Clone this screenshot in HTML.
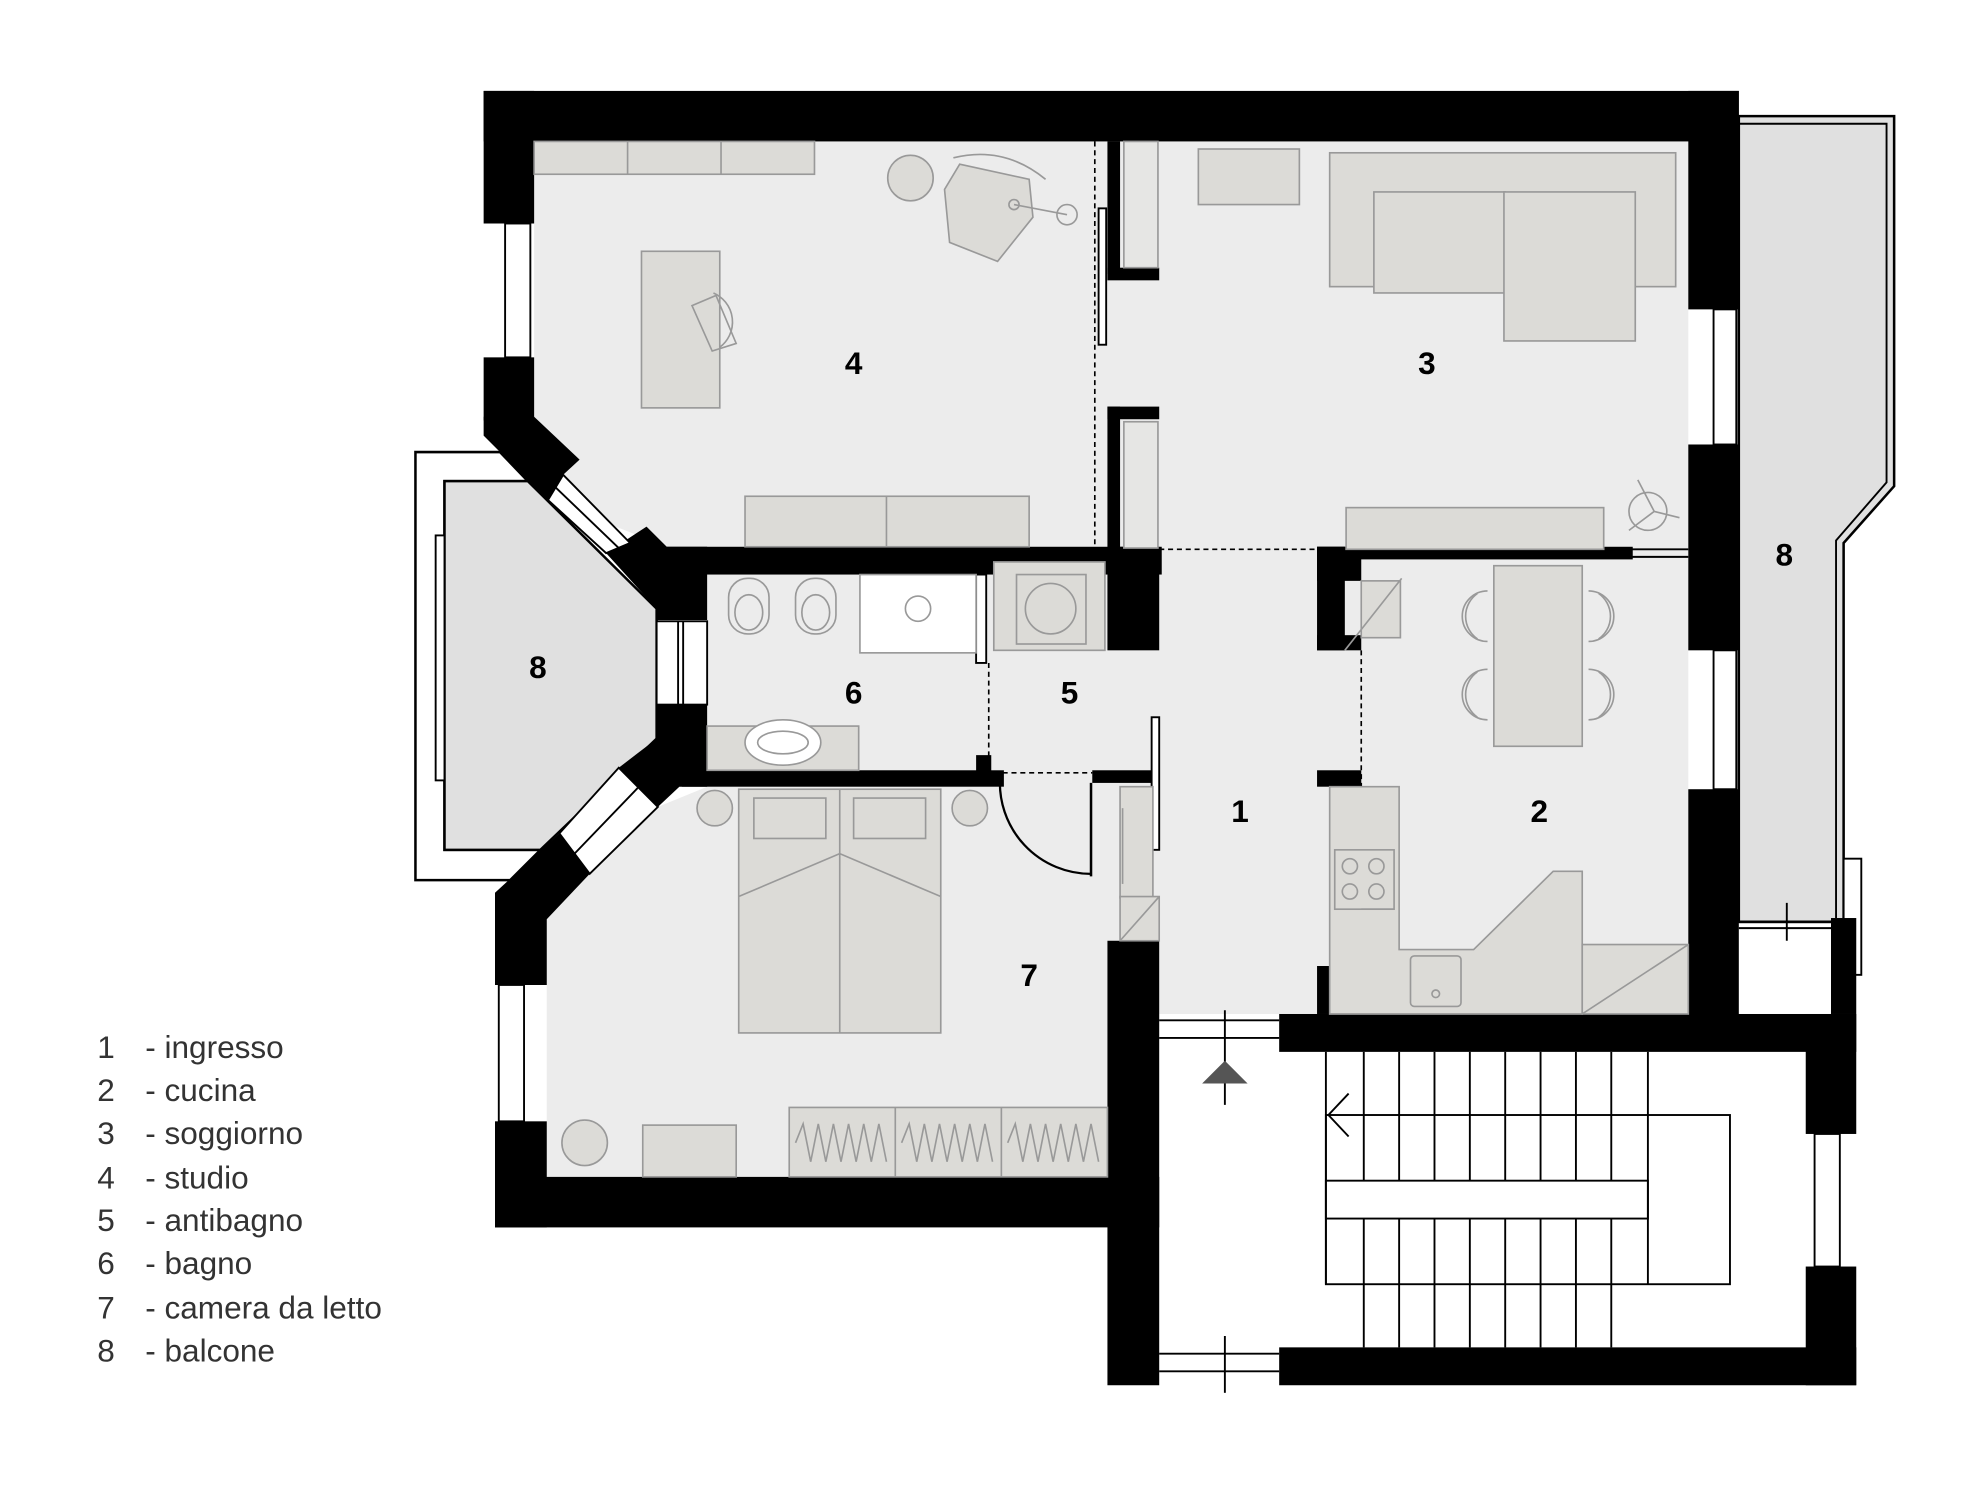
<!DOCTYPE html>
<html><head><meta charset="utf-8"><style>
html,body{margin:0;padding:0;background:#fff;}
svg{display:block}
text{font-family:"Liberation Sans",sans-serif;}
</style></head><body>
<svg width="1980" height="1485" viewBox="0 0 1568 1176" xmlns="http://www.w3.org/2000/svg">
<!-- right balcony -->
<polygon points="1377,92 1500,92 1500,385 1460,430 1460,730 1377,730" fill="#e0e0e0" stroke="#000" stroke-width="2"/>
<polyline points="1377,98 1494,98 1494,382 1454,428 1454,727" fill="none" stroke="#000" stroke-width="1.5"/>
<line x1="1377" y1="730" x2="1450" y2="730" stroke="#000" stroke-width="2"/>
<line x1="1377" y1="735" x2="1450" y2="735" stroke="#000" stroke-width="1.5"/>
<line x1="1415" y1="715" x2="1415" y2="745" stroke="#000" stroke-width="1.5"/>
<rect x="1460" y="680" width="14" height="92" fill="#fff" stroke="#000" stroke-width="1.5"/>
<!-- left balcony -->
<polygon points="329,358 396,358 418,381 352,381 352,673 428,673 404,697 329,697" fill="#fff" stroke="#000" stroke-width="2"/>
<polygon points="352,381 418,381 520,482 520,585 428,673 352,673" fill="#e0e0e0" stroke="#000" stroke-width="2"/>
<rect x="345" y="424" width="7" height="194" fill="#fff" stroke="#000" stroke-width="1.5"/>
<!-- interior floor -->
<polygon points="423,112 1337,112 1337,803 918,803 918,745 877,745 877,932 433,932 433,728 467,692 521,639 560,623 560,455 528,433 434,396 423,330" fill="#ececec"/>
<!-- outer walls -->
<g fill="#000">
<rect x="383" y="72" width="994" height="40"/>
<rect x="383" y="72" width="40" height="105"/>
<rect x="383" y="283" width="40" height="50"/>
<polygon points="383,330 423,330 459,364 446,376 434,396 383,345"/>
<polygon points="480,438 512,417 528,433 560,433 560,491 520,491 520,482"/>
<rect x="520" y="433" width="400" height="22"/>
<polygon points="520,558 560,558 560,623 538,623 521,639 490,608 520,585"/>
<rect x="540" y="610" width="255" height="13"/>
<polygon points="443,660 467,692 433,728 433,780 392,780 392,707"/>
<rect x="392" y="888" width="41" height="84"/>
<rect x="392" y="932" width="526" height="40"/>
<rect x="877" y="745" width="41" height="352"/>
<rect x="1337" y="72" width="40" height="173"/>
<rect x="1337" y="352" width="40" height="163"/>
<rect x="1337" y="625" width="40" height="180"/>
<rect x="1013" y="803" width="457" height="30"/>
<rect x="1430" y="803" width="40" height="95"/>
<rect x="1430" y="1003" width="40" height="94"/>
<rect x="1013" y="1067" width="457" height="30"/>
<rect x="1450" y="727" width="20" height="76"/>
<!-- interior walls -->
<rect x="877" y="112" width="10" height="105"/>
<rect x="877" y="212" width="41" height="10"/>
<rect x="877" y="322" width="41" height="10"/>
<rect x="877" y="322" width="10" height="112"/>
<rect x="877" y="433" width="41" height="82"/>
<rect x="1043" y="433" width="250" height="10"/>
<rect x="1043" y="433" width="35" height="27"/>
<rect x="1043" y="433" width="22" height="82"/>
<rect x="1043" y="503" width="35" height="12"/>
<rect x="1043" y="610" width="35" height="13"/>
<rect x="1043" y="765" width="12" height="38"/>
<rect x="865" y="610" width="53" height="10"/>
<rect x="773" y="598" width="12" height="15"/>
<rect x="1165" y="762" width="90" height="42"/>
</g>
<!-- windows -->
<g fill="#fff" stroke="#000" stroke-width="1.5">
<rect x="400" y="177" width="20" height="106"/>
<rect x="520" y="492" width="40" height="66"/>
<rect x="395" y="780" width="20" height="108"/>
<rect x="1357" y="245" width="18" height="107"/>
<rect x="1357" y="515" width="18" height="110"/>
<rect x="1437" y="898" width="20" height="105"/>
<rect x="773" y="455" width="8" height="70"/>
<rect x="912" y="568" width="6" height="105"/>
<rect x="870" y="165" width="6" height="108"/>
<rect x="1180" y="775" width="45" height="27" stroke="none"/>
<polygon points="446,376 434,396 480,438 499,430"/>
<polygon points="490,608 521,639 467,692 443,660"/>
</g>
<g stroke="#000" stroke-width="1.5">
<line x1="537" y1="492" x2="537" y2="558"/><line x1="541" y1="492" x2="541" y2="558"/>
<line x1="440" y1="386" x2="490" y2="434"/>
<line x1="505" y1="624" x2="455" y2="676"/>
</g>
<polyline points="1180,800 1215,790 1225,777" fill="none" stroke="#000" stroke-width="3"/>
<!-- stair windows -->
<g stroke="#000" stroke-width="1.5">
<line x1="918" y1="808" x2="1013" y2="808"/><line x1="918" y1="822" x2="1013" y2="822"/>
<line x1="970" y1="800" x2="970" y2="875"/>
<line x1="918" y1="1072" x2="1013" y2="1072"/><line x1="918" y1="1086" x2="1013" y2="1086"/>
<line x1="970" y1="1058" x2="970" y2="1103"/>
<line x1="1290" y1="435" x2="1337" y2="435"/><line x1="1290" y1="441" x2="1337" y2="441"/>
</g>
<polygon points="952,858 988,858 970,840" fill="#555"/>
<!-- stairs -->
<g stroke="#000" stroke-width="1.5" fill="none">
<rect x="1050" y="883" width="320" height="134"/>
<rect x="1050" y="935" width="255" height="30" fill="#fff"/>
<line x1="1050" y1="833" x2="1050" y2="1017"/>
<line x1="1305" y1="833" x2="1305" y2="1017"/>
<line x1="1080" y1="833" x2="1080" y2="935"/><line x1="1108" y1="833" x2="1108" y2="935"/><line x1="1136" y1="833" x2="1136" y2="935"/><line x1="1164" y1="833" x2="1164" y2="935"/><line x1="1192" y1="833" x2="1192" y2="935"/><line x1="1220" y1="833" x2="1220" y2="935"/><line x1="1248" y1="833" x2="1248" y2="935"/><line x1="1276" y1="833" x2="1276" y2="935"/>
<line x1="1080" y1="965" x2="1080" y2="1067"/><line x1="1108" y1="965" x2="1108" y2="1067"/><line x1="1136" y1="965" x2="1136" y2="1067"/><line x1="1164" y1="965" x2="1164" y2="1067"/><line x1="1192" y1="965" x2="1192" y2="1067"/><line x1="1220" y1="965" x2="1220" y2="1067"/><line x1="1248" y1="965" x2="1248" y2="1067"/><line x1="1276" y1="965" x2="1276" y2="1067"/>
<polyline points="1068,866 1052,883 1068,900"/>
</g>
<!-- dashed -->
<g stroke="#000" stroke-width="1.3" stroke-dasharray="4,3" fill="none">
<line x1="867" y1="112" x2="867" y2="433"/>
<line x1="918" y1="435" x2="1043" y2="435"/>
<polyline points="1078,515 1078,762 1337,762"/>
<polyline points="783,525 783,612 865,612"/>
</g>
<!-- furniture -->
<g fill="#dcdbd7" stroke="#999" stroke-width="1.3">
<rect x="423" y="112" width="222" height="26"/>
<rect x="508" y="199" width="62" height="124"/>
<rect x="590" y="393" width="225" height="40"/>
<circle cx="721" cy="141" r="18"/>
<polygon points="760,130 815,142 818,172 790,207 752,192 748,150"/>
<rect x="949" y="118" width="80" height="44"/>
<rect x="1053" y="121" width="274" height="106"/>
<rect x="1088" y="152" width="104" height="80"/>
<rect x="1191" y="152" width="104" height="118"/>
<rect x="1066" y="402" width="204" height="33"/>
<rect x="890" y="112" width="27" height="100" fill="#e6e6e4"/>
<rect x="890" y="334" width="27" height="100" fill="#e6e6e4"/>
<rect x="787" y="445" width="88" height="70"/>
<rect x="681" y="455" width="92" height="62" fill="#fff"/>
<rect x="560" y="575" width="120" height="35"/>
<ellipse cx="620" cy="588" rx="30" ry="18" fill="#fff"/>
<rect x="1183" y="448" width="70" height="143"/>
<rect x="1078" y="460" width="31" height="45"/>
<polygon points="1053,623 1108,623 1108,752 1167,752 1230,690 1253,690 1253,803 1053,803"/>
<rect x="1253" y="748" width="84" height="55"/>
<rect x="1057" y="673" width="47" height="47"/>
<rect x="1117" y="757" width="40" height="40" rx="3"/>
<rect x="887" y="623" width="26" height="88"/>
<rect x="887" y="710" width="31" height="35"/>
<circle cx="566" cy="640" r="14"/><circle cx="768" cy="640" r="14"/>
<rect x="585" y="625" width="160" height="193"/>
<rect x="597" y="632" width="57" height="32"/><rect x="676" y="632" width="57" height="32"/>
<circle cx="463" cy="905" r="18"/>
<rect x="509" y="891" width="74" height="41"/>
<rect x="625" y="877" width="252" height="55"/>
</g>
<g stroke="#999" stroke-width="1.3" fill="none">
<line x1="497" y1="112" x2="497" y2="138"/><line x1="571" y1="112" x2="571" y2="138"/>
<line x1="702" y1="393" x2="702" y2="433"/>
<line x1="665" y1="625" x2="665" y2="818"/>
<polyline points="585,710 665,676 745,710"/>
<line x1="709" y1="877" x2="709" y2="932"/><line x1="793" y1="877" x2="793" y2="932"/>
<polyline points="630,905 636,890 642,920 648,890 654,920 660,890 666,920 672,890 678,920 684,890 690,920 696,890 702,920"/>
<polyline points="714,905 720,890 726,920 732,890 738,920 744,890 750,920 756,890 762,920 768,890 774,920 780,890 786,920"/>
<polyline points="798,905 804,890 810,920 816,890 822,920 828,890 834,920 840,890 846,920 852,890 858,920 864,890 870,920"/>
<path d="M755,125 Q795,115 828,142"/><line x1="803" y1="162" x2="845" y2="170"/><circle cx="845" cy="170" r="8"/><circle cx="803" cy="162" r="4"/>
<path d="M565,232 A25,25 0 0 1 570,275"/><polygon points="548,242 567,234 583,272 564,278"/>
<path d="M1297,380 L1310,405 L1290,420 M1310,405 L1330,410"/><circle cx="1305" cy="405" r="15"/>
<rect x="805" y="455" width="55" height="55"/><circle cx="832" cy="482" r="20"/>
<line x1="1065" y1="515" x2="1110" y2="458"/>
<line x1="887" y1="745" x2="918" y2="710"/>
<line x1="1253" y1="803" x2="1337" y2="748"/>
<line x1="1078" y1="720" x2="1104" y2="720"/>
<circle cx="1069" cy="686" r="6"/><circle cx="1090" cy="686" r="6"/><circle cx="1069" cy="706" r="6"/><circle cx="1090" cy="706" r="6"/>
<circle cx="1137" cy="787" r="3"/>
<path d="M1178,468 A20,20 0 0 0 1178,508 M1258,468 A20,20 0 0 1 1258,508 M1178,530 A20,20 0 0 0 1178,570 M1258,530 A20,20 0 0 1 1258,570"/>
<path d="M1170,470 A22,22 0 0 0 1170,506 M1266,470 A22,22 0 0 1 1266,506 M1170,532 A22,22 0 0 0 1170,568 M1266,532 A22,22 0 0 1 1266,568"/>
<rect x="577" y="458" width="32" height="44" rx="15"/><rect x="630" y="458" width="32" height="44" rx="15"/>
<ellipse cx="593" cy="485" rx="11" ry="14"/><ellipse cx="646" cy="485" rx="11" ry="14"/>
<ellipse cx="620" cy="588" rx="20" ry="9"/>
<circle cx="727" cy="482" r="10"/>
<line x1="889" y1="640" x2="889" y2="700"/>
</g>
<!-- door -->
<path d="M792,615 A72,72 0 0 0 864,692" fill="none" stroke="#000" stroke-width="1.8"/>
<line x1="864" y1="620" x2="864" y2="694" stroke="#000" stroke-width="2"/>
<!-- labels -->
<g font-size="25" font-weight="bold" fill="#000" text-anchor="middle">
<text x="676" y="296">4</text><text x="1130" y="296">3</text>
<text x="426" y="537">8</text><text x="1413" y="448">8</text>
<text x="676" y="557">6</text><text x="847" y="557">5</text>
<text x="982" y="651">1</text><text x="1219" y="651">2</text>
<text x="815" y="781">7</text>
</g>
<g font-size="25" fill="#333">
<text x="77" y="838">1</text><text x="115" y="838">- ingresso</text>
<text x="77" y="872">2</text><text x="115" y="872">- cucina</text>
<text x="77" y="906">3</text><text x="115" y="906">- soggiorno</text>
<text x="77" y="941">4</text><text x="115" y="941">- studio</text>
<text x="77" y="975">5</text><text x="115" y="975">- antibagno</text>
<text x="77" y="1009">6</text><text x="115" y="1009">- bagno</text>
<text x="77" y="1044">7</text><text x="115" y="1044">- camera da letto</text>
<text x="77" y="1078">8</text><text x="115" y="1078">- balcone</text>
</g>
</svg>
</body></html>
